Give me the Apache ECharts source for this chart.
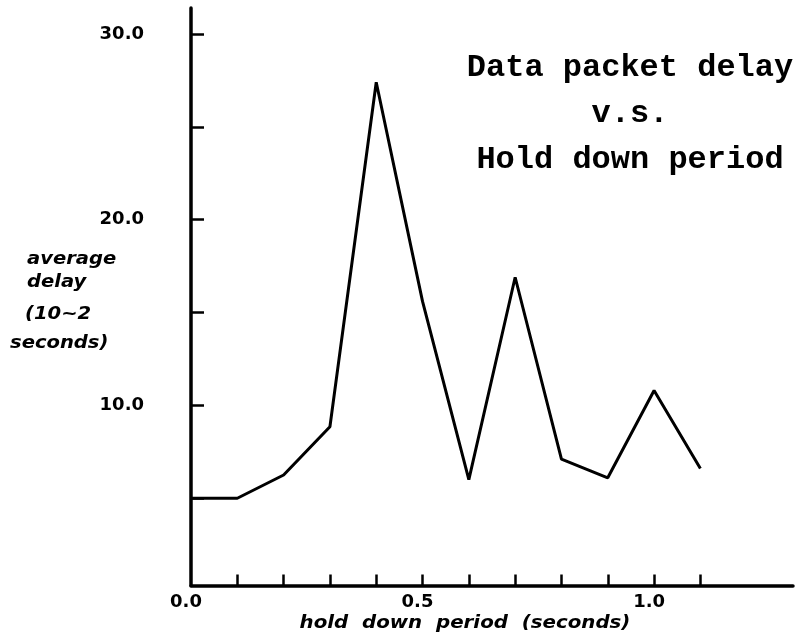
<!DOCTYPE html>
<html>
<head>
<meta charset="utf-8">
<script src="https://cdn.jsdelivr.net/npm/echarts@6/dist/echarts.min.js"></script>
<style>
html,body{margin:0;padding:0;background:#fff;}
#chart{width:802px;height:642px;}
</style>
</head>
<body>
<div id="chart"></div>
<script>
// hold down period (seconds)
const holdDown = [0.0, 0.1, 0.2, 0.3, 0.4, 0.5, 0.6, 0.7, 0.8, 0.9, 1.0, 1.1];
// average delay (10~2 seconds)
const avgDelay = [5.0, 5.0, 6.25, 8.85, 27.4, 15.6, 6.0, 16.9, 7.1, 6.1, 10.8, 6.6];
const xTickValues = [0.1, 0.2, 0.3, 0.4, 0.5, 0.6, 0.7, 0.8, 0.9, 1.0, 1.1];
const xLabelValues = [0.0, 0.5, 1.0];
const yTickValues = [5, 10, 15, 20, 25, 30];
const yLabelValues = [10, 20, 30];
const titleLines = ['Data packet delay', 'v.s.', 'Hold down period'];
const yTitleLines = ['average', 'delay', '(10~2', 'seconds)'];
const xTitle = 'hold  down  period  (seconds)';

const chart = echarts.init(document.getElementById('chart'), null, {renderer: 'canvas'});
const seriesData = holdDown.map((x, i) => [x, avgDelay[i]]);

const yTitlePos = [[27, 260], [27, 283], [25, 315], [10, 344]];
const italicBase = {fontFamily: 'DejaVu Sans', fontWeight: 'bold', fontStyle: 'italic', fill: '#000'};

const graphics = [
  {
    type: 'text', x: 630, y: 45, silent: true,
    style: {text: titleLines.join('\n'), align: 'center', verticalAlign: 'top',
      fontFamily: 'Liberation Mono', fontWeight: 'bold', fontSize: 32, lineHeight: 46, fill: '#000'}
  },
  {
    type: 'text', x: 465, y: 623, scaleX: 1.1, silent: true,
    style: Object.assign({text: xTitle, align: 'center', verticalAlign: 'middle', fontSize: 18}, italicBase)
  }
];
yTitleLines.forEach((t, i) => {
  graphics.push({
    type: 'text', x: yTitlePos[i][0], y: yTitlePos[i][1], scaleX: 1.15, silent: true,
    style: Object.assign({text: t, align: 'left', verticalAlign: 'middle', fontSize: 17}, italicBase)
  });
});

const option = {
  animation: false,
  backgroundColor: '#fff',
  grid: {left: 191, right: 9, top: 8, bottom: 56.5, containLabel: false},
  xAxis: {
    type: 'value', min: 0, max: 1.3,
    axisLine: {show: true, onZero: false, lineStyle: {color: '#000', width: 3.5}},
    axisTick: {show: true, inside: true, length: 11, customValues: xTickValues, lineStyle: {color: '#000', width: 2.5}},
    axisLabel: {show: true, customValues: xLabelValues, margin: 8, padding: [0, 10, 0, 0],
      formatter: v => Number(v).toFixed(1),
      color: '#000', fontFamily: 'DejaVu Sans', fontWeight: 'bold', fontSize: 18},
    splitLine: {show: false}
  },
  yAxis: {
    type: 'value', min: 0.3, max: 31.4,
    axisLine: {show: true, lineStyle: {color: '#000', width: 3.5}},
    axisTick: {show: true, inside: true, length: 13, customValues: yTickValues, lineStyle: {color: '#000', width: 2.5}},
    axisLabel: {show: true, customValues: yLabelValues, margin: 47, padding: [0, 0, 9, 0],
      formatter: v => Number(v).toFixed(1),
      color: '#000', fontFamily: 'DejaVu Sans', fontWeight: 'bold', fontSize: 18},
    splitLine: {show: false}
  },
  series: [{
    type: 'line', data: seriesData, symbol: 'none', smooth: false,
    lineStyle: {color: '#000', width: 3}, itemStyle: {color: '#000'}
  }],
  graphic: graphics
};
chart.setOption(option);
</script>
</body>
</html>
